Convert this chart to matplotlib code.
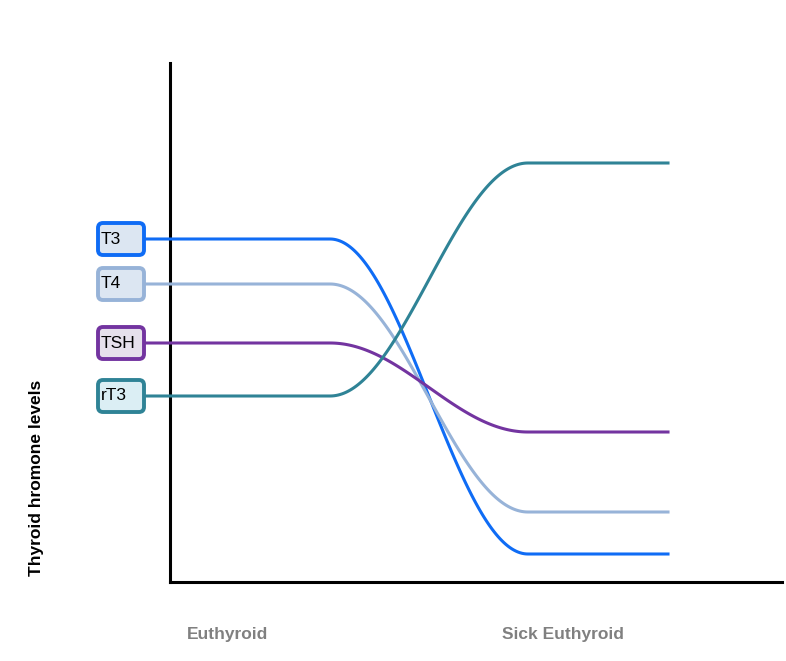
import numpy as np
import matplotlib
import matplotlib.pyplot as plt
from matplotlib.patches import FancyBboxPatch

matplotlib.use("Agg")
plt.rcParams["font.family"] = ["Liberation Sans", "DejaVu Sans"]

hormones = ["T3", "T4", "TSH", "rT3"]
euthyroid_levels = [343, 298, 239, 186]
sick_levels = [28, 70, 150, 419]
colors = ["#0f6cf5", "#97b3d8", "#7334a0", "#2f8396"]
box_faces = ["#dce6f2", "#dce6f2", "#e6e0ec", "#dbeef4"]
stage_labels = ["Euthyroid", "Sick Euthyroid"]

# x positions of the curve (axis units = pixels from figure left)
x_start, x_flat_end, x_sick, x_end = 145, 330, 528, 668

W, H = 786, 661
fig = plt.figure(figsize=(W / 100, H / 100), dpi=100)
ax = fig.add_axes([170 / W, (H - 582) / H, (782 - 170) / W, (582 - 63) / H])
ax.set_xlim(170, 782)
ax.set_ylim(0, 519)
for s in ["top", "right"]:
    ax.spines[s].set_visible(False)
ax.spines["left"].set_linewidth(2.2)
ax.spines["bottom"].set_linewidth(2.2)
ax.set_xticks([])
ax.set_yticks([])

t = np.linspace(0, 1, 100)
ease = (1 - np.cos(np.pi * t)) / 2
for name, a, b, c, fc in zip(hormones, euthyroid_levels, sick_levels, colors, box_faces):
    xs = np.concatenate([[x_start], x_flat_end + t * (x_sick - x_flat_end), [x_end]])
    ys = np.concatenate([[a], a + ease * (b - a), [b]])
    ax.plot(xs, ys, color=c, lw=2.2, clip_on=False, zorder=3)
    # label box
    bx = FancyBboxPatch((98, a - 16), 46, 32, boxstyle="round,pad=0,rounding_size=5",
                        fc=fc, ec=c, lw=2.8, clip_on=False, zorder=4)
    ax.add_patch(bx)
    ax.text(101, a, name, ha="left", va="center", fontsize=12.5, color="black",
            zorder=5, clip_on=False)

for lab, xp in zip(stage_labels, [227, 563]):
    fig.text(xp / W, 1 - 635 / H, lab, ha="center", va="center", fontsize=12.5,
             color="#808080", fontweight="bold")
fig.text(37 / W, 1 - 478 / H, "Thyroid hromone levels", rotation=90, ha="center",
         va="center", fontsize=12.5, fontweight="bold")

fig.savefig("out.png", dpi=100)
